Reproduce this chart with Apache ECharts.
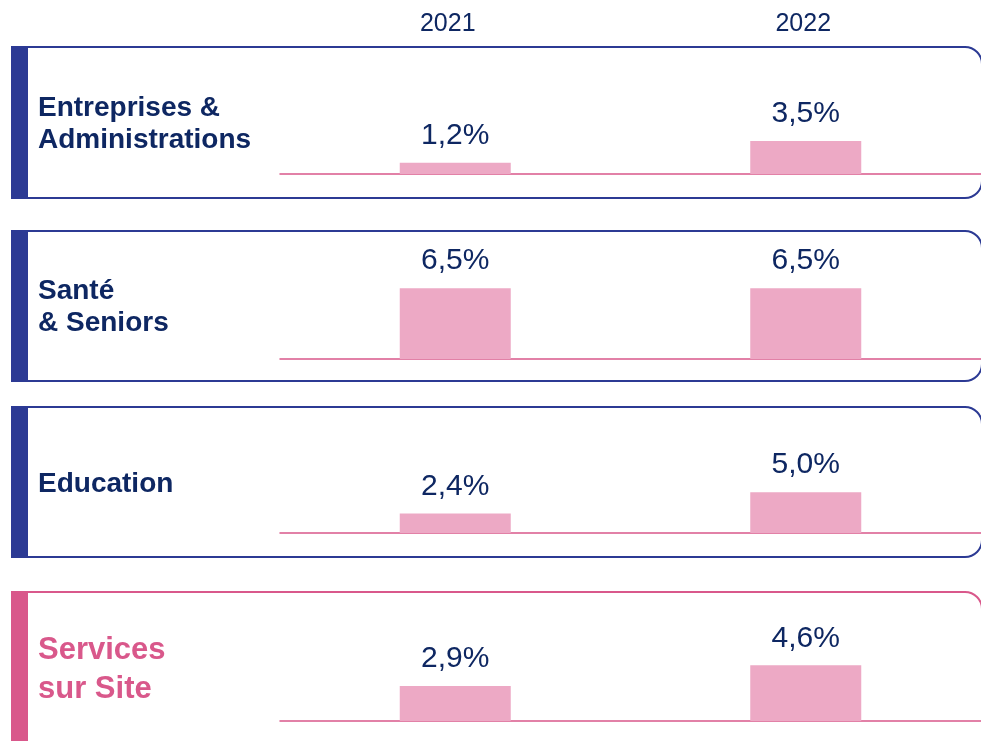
<!DOCTYPE html>
<html>
<head>
<meta charset="utf-8">
<script src="https://cdn.jsdelivr.net/npm/echarts@6/dist/echarts.min.js"></script>
<style>
  html, body { margin: 0; padding: 0; background: #fff; }
  #main { width: 981px; height: 741px; }
</style>
</head>
<body>
<div id="main"></div>
<script>
// données
const years = ["2021", "2022"];
const segments = ["Entreprises &\nAdministrations", "Santé\n& Seniors", "Education", "Services\nsur Site"];
const values2021 = [1.2, 6.5, 2.4, 2.9];
const values2022 = [3.5, 6.5, 5.0, 4.6];
// max de l'axe Y de chaque panneau (échelles différentes)
const yMax = [12, 10, 12, 10];

const NAVY = "#2c3a94";
const TEXT = "#0e2762";
const PINK = "#d9588b";
const BAR = "#eda9c5";

// position de chaque panneau
const panels = [
  { top: 47, height: 151, gridTop: 61, base: 174, color: NAVY, labelY: 124 },
  { top: 231, height: 150, gridTop: 250, base: 359, color: NAVY, labelY: 307 },
  { top: 407, height: 150, gridTop: 435, base: 533, color: NAVY, labelY: 484 },
  { top: 592, height: 200, gridTop: 600, base: 721, color: PINK, labelY: 670 }
];

const chart = echarts.init(document.getElementById("main"), null, { renderer: "canvas" });

const grids = [], xAxes = [], yAxes = [], series = [], graphics = [];

panels.forEach((p, i) => {
  grids.push({ left: 280, right: 0, top: p.gridTop, height: p.base - p.gridTop });
  xAxes.push({
    type: "category",
    gridIndex: i,
    data: years,
    axisLine: { lineStyle: { color: PINK, width: 1.5 } },
    axisTick: { show: false },
    axisLabel: { show: false }
  });
  yAxes.push({
    type: "value",
    gridIndex: i,
    min: 0,
    max: yMax[i],
    show: false,
    splitLine: { show: false }
  });
  series.push({
    type: "bar",
    xAxisIndex: i,
    yAxisIndex: i,
    barWidth: 111,
    data: [values2021[i], values2022[i]],
    itemStyle: { color: BAR },
    label: {
      show: true,
      position: "top",
      distance: 12,
      color: TEXT,
      fontSize: 30,
      fontFamily: "Liberation Sans, Arial, sans-serif",
      formatter: (pm) => pm.value.toFixed(1).replace(".", ",") + "%"
    },
    silent: true
  });

  // cadre arrondi
  graphics.push({
    type: "rect",
    shape: { x: 12, y: p.top, width: 970, height: p.height, r: [0, 17, 17, 0] },
    style: { fill: null, stroke: p.color, lineWidth: 2 },
    z: 1
  });
  // barre épaisse à gauche
  graphics.push({
    type: "rect",
    shape: { x: 11, y: p.top - 1, width: 17, height: p.height + 2 },
    style: { fill: p.color },
    z: 2
  });
  // libellé
  const last = i === 3;
  graphics.push({
    type: "text",
    x: 38,
    y: p.labelY,
    style: {
      text: segments[i],
      fill: last ? PINK : TEXT,
      font: "bold " + (last ? 31 : 28) + "px Liberation Sans, Arial, sans-serif",
      lineHeight: last ? 39 : 32,
      verticalAlign: "middle",
      align: "left"
    },
    z: 3
  });
});

// axe des années en haut
grids.push({ left: 270, right: 0, top: 61, height: 50 });
xAxes.push({
  type: "category",
  gridIndex: 4,
  position: "top",
  offset: 16,
  data: years,
  axisLine: { show: false },
  axisTick: { show: false },
  axisLabel: {
    color: TEXT,
    fontSize: 25,
    margin: 8,
    fontFamily: "Liberation Sans, Arial, sans-serif"
  }
});
yAxes.push({ type: "value", gridIndex: 4, show: false, splitLine: { show: false } });

chart.setOption({
  animation: false,
  grid: grids,
  xAxis: xAxes,
  yAxis: yAxes,
  series: series,
  graphic: graphics
});
</script>
</body>
</html>
